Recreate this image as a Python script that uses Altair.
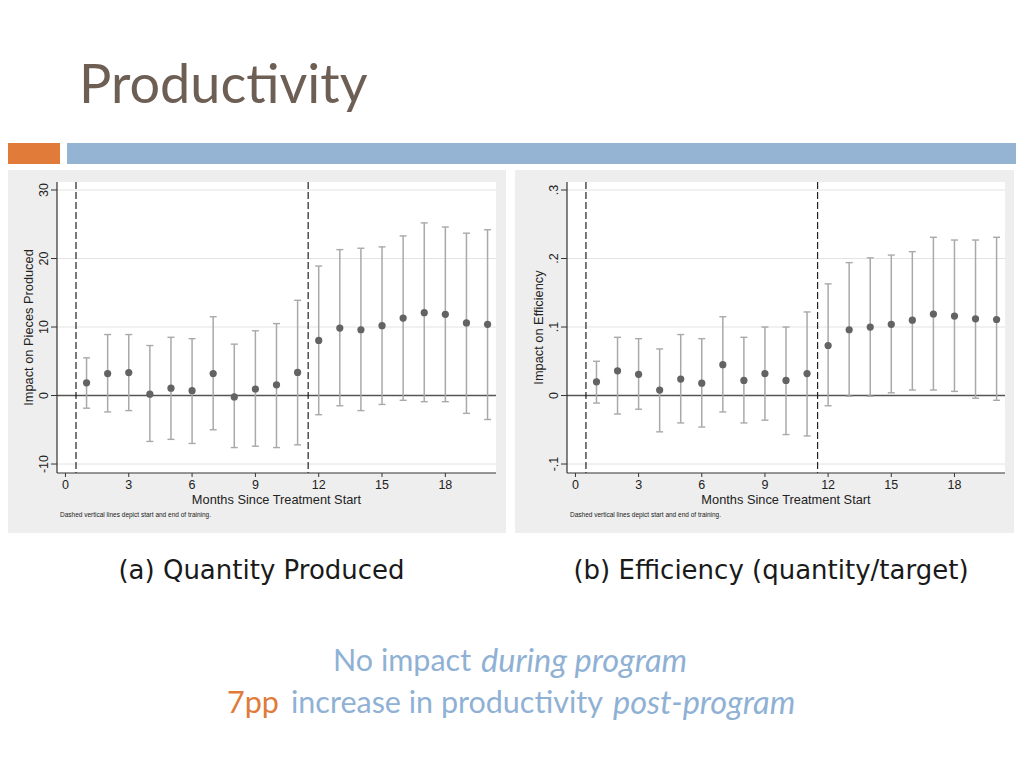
import altair as alt
import pandas as pd

# ---------------- data ----------------
months = list(range(1, 21))

qty_est = [1.85, 3.2, 3.35, 0.2, 1.07, 0.7, 3.2, -0.2, 0.95, 1.56,
           3.37, 8.05, 9.85, 9.6, 10.2, 11.3, 12.1, 11.85, 10.6, 10.4]
qty_hi = [5.5, 8.9, 8.9, 7.3, 8.5, 8.3, 11.5, 7.5, 9.45, 10.5,
          13.9, 18.9, 21.3, 21.5, 21.7, 23.3, 25.2, 24.6, 23.7, 24.2]
qty_lo = [-1.85, -2.4, -2.2, -6.7, -6.4, -7.0, -5.0, -7.6, -7.4, -7.6,
          -7.2, -2.8, -1.5, -2.2, -1.3, -0.7, -0.9, -0.9, -2.6, -3.5]

eff_est = [0.020, 0.036, 0.031, 0.008, 0.024, 0.018, 0.045, 0.022, 0.032, 0.022,
           0.032, 0.073, 0.096, 0.100, 0.104, 0.110, 0.119, 0.116, 0.112, 0.111]
eff_hi = [0.050, 0.085, 0.083, 0.068, 0.089, 0.083, 0.115, 0.085, 0.100, 0.100,
          0.122, 0.163, 0.194, 0.201, 0.205, 0.210, 0.231, 0.227, 0.227, 0.231]
eff_lo = [-0.011, -0.027, -0.020, -0.053, -0.040, -0.046, -0.024, -0.040, -0.036, -0.057,
          -0.059, -0.015, -0.001, -0.001, 0.004, 0.008, 0.008, 0.006, -0.004, -0.007]

x_ticks = [0, 3, 6, 9, 12, 15, 18]
x_labels = ["0", "3", "6", "9", "12", "15", "18"]
training_lines = [0.5, 11.5]

qty_ticks = [-10, 0, 10, 20, 30]
qty_labels = ["-10", "0", "10", "20", "30"]
qty_grid = [-10, 10, 20, 30]
eff_ticks = [-0.1, 0, 0.1, 0.2, 0.3]
eff_labels = ["-.1", "0", ".1", ".2", ".3"]
eff_grid = [-0.1, 0.1, 0.2, 0.3]

x_title = ["Months Since Treatment Start"]
qty_title = ["Impact on Pieces Produced"]
eff_title = ["Impact on Efficiency"]
slide_title = ["Productivity"]
note_text = ["Dashed vertical lines depict start and end of training."]
caption_a = ["(a) Quantity Produced"]
caption_b = ["(b) Efficiency (quantity/target)"]
footer_1 = ["No impact", "during program"]
footer_2 = ["7pp", "increase in productivity", "post-program"]

# ---------------- styling ----------------
AXFONT = "Liberation Sans"
H = 291
W_A = 439
W_B = 438
GREY_BG = "#eeeeee"
ERR_C = "#a9a9a9"
PT_C = "#636363"
AX_C = "#333333"
TXT_C = "#222222"
BLUE_T = "#8fb1d4"
ORANGE = "#e07b39"
X_DOMAIN = [-0.4, 20.4]


def one(text):
    return alt.Chart(pd.DataFrame({"t": text}))


def panel(est, lo, hi, ydomain, yticks, ylabels, ygrid, ytitle, caption,
          width, grey_x0, grey_x1):
    df = pd.DataFrame({"m": months, "est": est, "lo": lo, "hi": hi})
    xs = alt.Scale(domain=X_DOMAIN, nice=False, zero=False)
    ys = alt.Scale(domain=ydomain, nice=False, zero=False)

    grey = one([""]).mark_rect(color=GREY_BG).encode(
        x=alt.value(grey_x0), x2=alt.value(grey_x1), y=alt.value(-12), y2=alt.value(351))
    white = one([""]).mark_rect(color="white").encode(
        x=alt.value(0), x2=alt.value(width), y=alt.value(0), y2=alt.value(H))

    grid = alt.Chart(pd.DataFrame({"g": ygrid})).mark_rule(
        color="#e3e3e3", strokeWidth=1).encode(y=alt.Y("g:Q", scale=ys, axis=None))
    zero = alt.Chart(pd.DataFrame({"z": [0]})).mark_rule(
        color="#555555", strokeWidth=1.6).encode(y=alt.Y("z:Q", scale=ys, axis=None))
    dashed = alt.Chart(pd.DataFrame({"d": training_lines})).mark_rule(
        color="#222222", strokeDash=[7, 3], strokeWidth=1.2).encode(
        x=alt.X("d:Q", scale=xs, axis=None))

    base = alt.Chart(df)
    bars = base.mark_rule(color=ERR_C, strokeWidth=1.5).encode(
        x=alt.X("m:Q", scale=xs, axis=None),
        y=alt.Y("lo:Q", scale=ys, axis=None),
        y2="hi:Q")
    cap_hi = base.mark_tick(orient="horizontal", color=ERR_C, thickness=1.4, size=7,
                            opacity=1).encode(
        x=alt.X("m:Q", scale=xs, axis=None), y=alt.Y("hi:Q", scale=ys, axis=None))
    cap_lo = base.mark_tick(orient="horizontal", color=ERR_C, thickness=1.4, size=7,
                            opacity=1).encode(
        x=alt.X("m:Q", scale=xs, axis=None), y=alt.Y("lo:Q", scale=ys, axis=None))
    pts = base.mark_circle(size=52, color=PT_C, opacity=1).encode(
        x=alt.X("m:Q", scale=xs, axis=None), y=alt.Y("est:Q", scale=ys, axis=None))

    # ---- axes drawn as marks (Stata style) ----
    ydom = one([""]).mark_rule(color=AX_C, strokeWidth=1.2).encode(
        x=alt.value(0), y=alt.value(0), y2=alt.value(H))
    xdom = one([""]).mark_rule(color=AX_C, strokeWidth=1.2).encode(
        x=alt.value(0), x2=alt.value(width), y=alt.value(H))
    ydf = pd.DataFrame({"v": yticks, "lab": ylabels})
    ytk = alt.Chart(ydf).mark_rule(color=AX_C, strokeWidth=1).encode(
        y=alt.Y("v:Q", scale=ys, axis=None), x=alt.value(-6), x2=alt.value(0))
    ylab = alt.Chart(ydf).mark_text(font=AXFONT, fontSize=12.5, color=TXT_C, angle=270,
                                    align="center", baseline="alphabetic").encode(
        y=alt.Y("v:Q", scale=ys, axis=None), x=alt.value(-9), text="lab:N")
    xdf = pd.DataFrame({"v": x_ticks, "lab": x_labels})
    xtk = alt.Chart(xdf).mark_rule(color=AX_C, strokeWidth=1).encode(
        x=alt.X("v:Q", scale=xs, axis=None), y=alt.value(H), y2=alt.value(H + 4))
    xlab = alt.Chart(xdf).mark_text(font=AXFONT, fontSize=12.5, color=TXT_C,
                                    align="center", baseline="middle").encode(
        x=alt.X("v:Q", scale=xs, axis=None), y=alt.value(H + 12), text="lab:N")
    xtitle = one(x_title).mark_text(font=AXFONT, fontSize=12.8, color=TXT_C,
                                    align="center", baseline="middle").encode(
        text="t:N", x=alt.value(width / 2), y=alt.value(H + 27))
    ytitle_m = one(ytitle).mark_text(font=AXFONT, fontSize=12.8, color=TXT_C, angle=270,
                                     align="center", baseline="middle").encode(
        text="t:N", x=alt.value(-28), y=alt.value(H / 2))

    note = one(note_text).mark_text(font=AXFONT, fontSize=6.5, color=TXT_C,
                                    align="left", baseline="middle").encode(
        text="t:N", x=alt.value(3), y=alt.value(333))
    cap = one(caption).mark_text(font="DejaVu Sans", fontSize=26, color="#1a1a1a",
                                 align="center", baseline="middle").encode(
        text="t:N", x=alt.value(width / 2 - 15), y=alt.value(389))

    return [grey, white, grid, zero, dashed, bars, cap_hi, cap_lo, pts,
            ydom, xdom, ytk, ylab, xtk, xlab, xtitle, ytitle_m, note, cap]


layers_a = panel(qty_est, qty_lo, qty_hi, [-11.31, 31.17], qty_ticks, qty_labels, qty_grid,
                 qty_title, caption_a, W_A, -49, 449)
layers_b = panel(eff_est, eff_lo, eff_hi, [-0.1131, 0.3117], eff_ticks, eff_labels, eff_grid,
                 eff_title, caption_b, W_B, -52, 447)

# ---------------- slide decorations (drawn relative to panel a) ----------------
page = one([""]).mark_rect(color="white").encode(
    x=alt.value(-49), x2=alt.value(959), y=alt.value(-174), y2=alt.value(568))
orange_bar = one([""]).mark_rect(color=ORANGE).encode(
    x=alt.value(-49), x2=alt.value(3), y=alt.value(-39), y2=alt.value(-18))
blue_bar = one([""]).mark_rect(color="#95b4d4").encode(
    x=alt.value(10), x2=alt.value(959), y=alt.value(-39), y2=alt.value(-18))
title = one(slide_title).mark_text(font="Lato", fontSize=54, color="#6e5f55",
                                   align="left", baseline="alphabetic").encode(
    text="t:N", x=alt.value(22), y=alt.value(-79))

FS_R = 30.5
FS_I = 32.5
f1a = one(footer_1[:1]).mark_text(font="Lato", fontSize=FS_R, color=BLUE_T,
                                  align="left", baseline="middle").encode(
    text="t:N", x=alt.value(276), y=alt.value(480))
f1b = one(footer_1[1:]).mark_text(font="Lato", fontSize=FS_I, color=BLUE_T, fontStyle="italic",
                                  align="left", baseline="middle").encode(
    text="t:N", x=alt.value(424), y=alt.value(480))
f2a = one(footer_2[:1]).mark_text(font="Lato", fontSize=FS_R, color=ORANGE,
                                  align="left", baseline="middle").encode(
    text="t:N", x=alt.value(170), y=alt.value(522))
f2b = one(footer_2[1:2]).mark_text(font="Lato", fontSize=FS_R, color=BLUE_T,
                                   align="left", baseline="middle").encode(
    text="t:N", x=alt.value(234), y=alt.value(522))
f2c = one(footer_2[2:]).mark_text(font="Lato", fontSize=FS_I, color=BLUE_T, fontStyle="italic",
                                  align="left", baseline="middle").encode(
    text="t:N", x=alt.value(556), y=alt.value(522))

panel_a = alt.layer(page, orange_bar, blue_bar, title, *layers_a,
                    f1a, f1b, f2a, f2b, f2c).properties(width=W_A, height=H)
panel_b = alt.layer(*layers_b).properties(width=W_B, height=H)

chart = alt.hconcat(panel_a, panel_b, spacing=71, bounds="flush").properties(
    padding=0
).configure(background="white").configure_view(stroke=None)

chart.save("out.html", embed_options={"renderer": "svg", "actions": False})
